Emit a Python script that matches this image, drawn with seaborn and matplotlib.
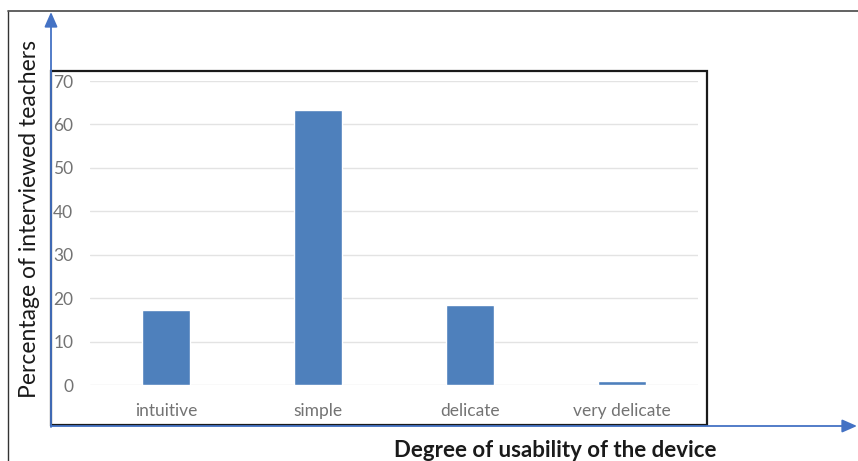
import matplotlib
matplotlib.use("Agg")
import matplotlib.pyplot as plt
from matplotlib.patches import Rectangle, FancyArrowPatch
import seaborn as sns
import pandas as pd

categories = ["intuitive", "simple", "delicate", "very delicate"]
percentages = [17.3, 63.3, 18.4, 1.0]
y_ticks = [0, 10, 20, 30, 40, 50, 60, 70]

sns.set_theme(style="white")
plt.rcParams["font.family"] = ["Lato", "DejaVu Sans"]

W, H = 858, 461
fig = plt.figure(figsize=(W / 100, H / 100), dpi=100)
fig.patch.set_facecolor("white")


def fx(px):
    return px / W


def fy(py):
    return 1 - py / H


# plotting area
ax = fig.add_axes([fx(90), fy(385), fx(698) - fx(90), fy(81) - fy(385)])
df = pd.DataFrame({"category": categories, "value": percentages})
sns.barplot(data=df, x="category", y="value", color="#4e80bc", width=0.31,
            saturation=1, ax=ax, zorder=3)
ax.set_xlim(-0.5, len(categories) - 0.5)
ax.set_ylim(0, 70)
ax.set_yticks(y_ticks)
ax.yaxis.grid(True, color="#e3e3e3", linewidth=1.0, zorder=0)
ax.set_axisbelow(True)
for s in ax.spines.values():
    s.set_visible(False)
ax.tick_params(axis="y", length=0, pad=12, labelsize=12.5, labelcolor="#737373")
ax.tick_params(axis="x", length=0, pad=13, labelsize=12.5, labelcolor="#737373")
ax.set_xlabel("")
ax.set_ylabel("")

# chart frame
fig.add_artist(Rectangle((fx(51), fy(425)), fx(707) - fx(51), fy(71) - fy(425),
                         transform=fig.transFigure, fill=False,
                         edgecolor="#1a1a1a", linewidth=1.6, zorder=5))

# outer frame lines
fig.add_artist(plt.Line2D([fx(8), fx(8)], [fy(11), 0], transform=fig.transFigure,
                          color="#333333", linewidth=1.0))
fig.add_artist(plt.Line2D([fx(8), 1], [fy(11), fy(11)], transform=fig.transFigure,
                          color="#555555", linewidth=1.3))

# blue axis arrows
arrow_style = dict(arrowstyle="-|>,head_length=0.5,head_width=0.22",
                   color="#4472c4", linewidth=1.3, mutation_scale=18,
                   transform=fig.transFigure, zorder=6, shrinkA=0, shrinkB=0)
fig.add_artist(FancyArrowPatch((fx(51), fy(427)), (fx(51), fy(12)), **arrow_style))
fig.add_artist(FancyArrowPatch((fx(51), fy(426)), (fx(857), fy(426)), **arrow_style))

# axis titles
fig.text(fx(30), fy(219), "Percentage of interviewed teachers", rotation=90,
         ha="center", va="center", fontsize=16.5, color="#1a1a1a")
fig.text(fx(555), fy(450), "Degree of usability of the device", ha="center",
         va="center", fontsize=16, fontweight="bold", color="#1a1a1a")

fig.savefig("out.png", dpi=100)
